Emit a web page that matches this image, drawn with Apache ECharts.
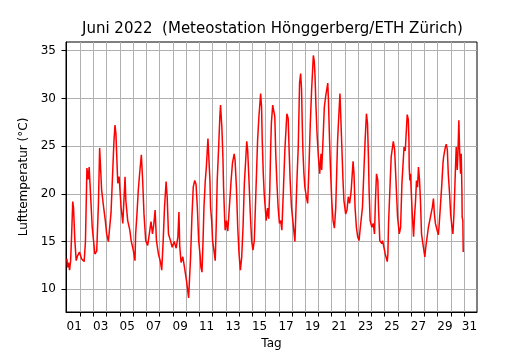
<!DOCTYPE html>
<html>
<head>
<meta charset="utf-8">
<script src="https://cdn.jsdelivr.net/npm/echarts@6.0.0/dist/echarts.min.js"></script>
<style>
  html, body { margin: 0; padding: 0; background: #fff; }
  #chart { width: 530px; height: 350px; }
</style>
</head>
<body>
<div id="chart"></div>
<script>
// time as day of month (1.0 = 1 June 00:00)
const dayTime = [
  1.00, 1.05, 1.12, 1.20, 1.28, 1.35, 1.44, 1.50, 1.60, 1.70, 1.80, 1.95,
  2.10, 2.30, 2.40, 2.51, 2.60, 2.68, 2.80, 2.91,
  3.01, 3.11, 3.25, 3.38, 3.47, 3.55, 3.62, 3.77, 3.90,
  4.00, 4.13, 4.33, 4.43, 4.55, 4.63, 4.70, 4.84, 4.94,
  5.09, 5.22, 5.39, 5.45, 5.59, 5.75, 5.85,
  6.01, 6.14, 6.19, 6.29, 6.39, 6.49, 6.62, 6.72, 6.82, 6.95,
  7.10, 7.20, 7.35, 7.46, 7.56, 7.66, 7.76, 7.91,
  8.06, 8.16, 8.27, 8.37, 8.49, 8.57, 8.67, 8.82, 8.95,
  9.10, 9.25, 9.38, 9.46, 9.52, 9.62, 9.75, 9.88,
  10.04, 10.19, 10.34, 10.44, 10.54, 10.65, 10.75, 10.85, 10.95,
  11.05, 11.12, 11.20, 11.28, 11.35, 11.45, 11.53, 11.65, 11.73, 11.80, 11.85, 11.93,
  12.00, 12.10, 12.20, 12.28, 12.35, 12.45, 12.55, 12.60, 12.70, 12.78, 12.83, 12.90, 12.95,
  13.05, 13.15, 13.30, 13.40, 13.50, 13.63, 13.70, 13.80, 13.90,
  14.00, 14.10, 14.20, 14.30, 14.40, 14.50, 14.58, 14.65, 14.75, 14.85, 14.95,
  15.05, 15.15, 15.30, 15.40, 15.50, 15.63, 15.70, 15.75, 15.83, 15.90,
  16.05, 16.15, 16.24, 16.32, 16.39, 16.44, 16.54, 16.65, 16.70, 16.77, 16.85, 16.95,
  17.05, 17.15, 17.23, 17.35, 17.46, 17.61, 17.71, 17.78, 17.86, 17.96,
  18.06, 18.22, 18.32, 18.39, 18.47, 18.57, 18.65, 18.72, 18.77, 18.82, 18.90, 18.97,
  19.08, 19.18, 19.28, 19.38, 19.48, 19.61, 19.68, 19.73, 19.81, 19.89, 19.99,
  20.09, 20.19, 20.24, 20.34, 20.44, 20.54, 20.70, 20.75, 20.82, 20.90,
  21.00, 21.10, 21.20, 21.30, 21.37, 21.44, 21.49, 21.62, 21.70, 21.77, 21.85, 21.92,
  22.05, 22.15, 22.25, 22.35, 22.46, 22.61, 22.68, 22.76, 22.86, 22.96,
  23.06, 23.16, 23.32, 23.42, 23.52, 23.62, 23.70, 23.77, 23.82, 23.90,
  24.03, 24.13, 24.23, 24.30, 24.38, 24.48, 24.53, 24.63, 24.78, 24.84, 24.94,
  25.04, 25.19, 25.24, 25.29, 25.39, 25.49, 25.65, 25.75, 25.85, 25.97,
  26.10, 26.20, 26.30, 26.46, 26.55, 26.70, 26.78, 26.83, 26.85, 26.90, 26.95,
  27.00, 27.08, 27.18, 27.25, 27.33, 27.40, 27.48, 27.55, 27.63, 27.70, 27.78, 27.88, 27.95,
  28.03, 28.10, 28.20, 28.30, 28.40, 28.50, 28.60, 28.68, 28.75, 28.83, 28.90,
  29.05, 29.10, 29.20, 29.30, 29.40, 29.45, 29.58, 29.65, 29.73, 29.80, 29.90, 29.98,
  30.08, 30.15, 30.23, 30.33, 30.40, 30.48, 30.53, 30.60, 30.65, 30.73, 30.78, 30.83, 30.85, 30.90, 30.93
];

// air temperature in °C, same order as dayTime
const tempC = [
  13.2, 12.3, 12.8, 12.0, 13.0, 15.5, 19.2, 18.5, 15.1, 13.0, 13.5, 13.9,
  13.2, 12.9, 15.0, 22.7, 21.5, 22.8, 19.5, 16.5,
  15.1, 13.7, 14.0, 19.0, 24.8, 22.5, 20.4, 18.6, 17.2,
  15.8, 15.0, 18.0, 21.4, 25.5, 27.2, 26.3, 21.1, 21.8,
  18.6, 16.9, 21.8, 19.3, 17.2, 16.2, 15.1,
  14.1, 13.0, 15.8, 17.9, 20.4, 22.1, 24.1, 21.4, 17.9, 15.1,
  14.6, 14.8, 17.1, 15.8, 16.8, 18.3, 15.1, 13.7,
  12.9, 12.0, 15.1, 18.6, 21.3, 19.7, 15.8, 15.1, 14.4,
  15.0, 14.3, 15.5, 18.1, 14.5, 12.8, 13.4, 12.3,
  10.8, 9.1, 13.4, 17.6, 20.7, 21.4, 21.0, 18.6, 15.1,
  13.7, 12.3, 11.8, 15.1, 18.6, 21.4, 22.8, 25.8, 25.6, 21.4, 18.6, 17.2,
  15.1, 14.1, 13.0, 16.9, 21.4, 24.6, 28.1, 29.3, 27.0, 23.9, 20.7, 17.9, 16.2,
  17.2, 16.1, 19.3, 21.4, 23.2, 24.2, 23.5, 20.7, 16.5,
  13.7, 12.0, 13.4, 16.5, 21.1, 23.5, 25.5, 24.6, 21.4, 17.9, 15.1,
  14.1, 15.1, 21.4, 25.6, 28.1, 30.5, 29.1, 25.6, 22.1, 20.0,
  17.2, 18.5, 17.4, 20.4, 24.9, 27.4, 29.3, 29.1, 28.1, 24.2, 21.4, 18.6,
  16.9, 17.2, 16.2, 20.4, 24.6, 28.4, 27.9, 24.6, 21.4, 18.6,
  17.2, 15.0, 19.3, 22.1, 24.9, 31.6, 32.6, 30.9, 27.4, 24.6, 22.1, 20.7,
  19.7, 19.0, 22.8, 27.4, 30.9, 34.5, 33.9, 32.6, 29.1, 26.3, 23.9,
  22.1, 24.2, 22.5, 25.6, 29.1, 30.2, 31.6, 29.8, 26.3, 22.8,
  19.3, 17.2, 16.4, 18.5, 22.0, 25.5, 27.0, 30.5, 27.4, 24.6, 21.4, 19.3,
  17.9, 18.3, 19.7, 19.0, 20.2, 23.4, 22.1, 18.6, 16.5, 15.5,
  15.1, 16.5, 18.6, 22.1, 25.6, 28.4, 27.4, 23.9, 20.4, 17.2,
  16.5, 16.9, 15.8, 19.3, 22.1, 21.4, 18.6, 15.1, 14.8, 15.1, 14.4,
  13.7, 12.9, 13.7, 16.9, 20.4, 23.9, 25.5, 24.6, 21.4, 17.6,
  15.8, 16.5, 21.1, 24.9, 24.5, 28.3, 27.8, 25.6, 22.8, 21.4, 22.1,
  20.4, 17.9, 15.5, 17.6, 19.3, 21.4, 20.7, 22.8, 21.4, 19.3, 15.8, 14.8, 14.8,
  13.4, 14.4, 14.6, 16.5, 17.2, 17.9, 18.6, 19.5, 17.9, 16.9, 16.5,
  15.7, 16.5, 18.6, 20.7, 23.2, 23.9, 24.9, 25.2, 24.6, 22.1, 20.0, 17.9,
  16.5, 15.8, 17.9, 22.1, 24.9, 22.5, 24.2, 27.7, 24.9, 22.1, 24.2, 20.4, 17.6, 17.2, 13.9
];

// vertical grid lines / ticks at the day boundaries
const gridDays = [2, 3, 4, 5, 6, 7, 8, 9, 10, 11, 12, 13, 14, 15, 16,
  17, 18, 19, 20, 21, 22, 23, 24, 25, 26, 27, 28, 29, 30, 31];
const labelDays = [1.55, 3.55, 5.55, 7.55, 9.55, 11.55, 13.55, 15.55,
  17.55, 19.55, 21.55, 23.55, 25.55, 27.55, 29.55, 31.4];
const labelText = ['01', '03', '05', '07', '09', '11', '13', '15',
  '17', '19', '21', '23', '25', '27', '29', '31'];
const tempTicks = [10, 15, 20, 25, 30, 35];

const font = 'DejaVu Sans';
const chart = echarts.init(document.getElementById('chart'), null, { renderer: 'canvas' });

const option = {
  animation: false,
  backgroundColor: '#fff',
  title: {
    text: 'Juni 2022  (Meteostation Hönggerberg/ETH Zürich)',
    left: 82,
    top: 22,
    padding: 0,
    textStyle: { fontFamily: font, fontSize: 15, fontWeight: 'normal', color: '#000' }
  },
  grid: {
    left: 66, right: 53, top: 42, bottom: 38,
    containLabel: false,
    outerBoundsMode: 'none',
    show: true, borderColor: '#000', borderWidth: 1, backgroundColor: 'transparent'
  },
  xAxis: {
    type: 'value',
    min: 0.93,
    max: 31.97,
    name: 'Tag',
    nameLocation: 'middle',
    nameGap: 26,
    nameTextStyle: { fontFamily: font, fontSize: 12, color: '#000' },
    axisLine: { show: true, onZero: false, lineStyle: { color: '#000', width: 1 } },
    axisTick: { show: true, inside: false, length: 4.5, customValues: gridDays, lineStyle: { color: '#000' } },
    axisLabel: {
      show: true, margin: 9, customValues: labelDays,
      fontFamily: font, fontSize: 12, color: '#000',
      formatter: (v) => {
        let best = 0;
        labelDays.forEach((d, i) => { if (Math.abs(d - v) < Math.abs(labelDays[best] - v)) best = i; });
        return labelText[best];
      }
    },
    splitLine: { show: true, lineStyle: { color: '#b0b0b0', width: 1 } }
  },
  yAxis: {
    type: 'value',
    min: 7.62,
    max: 35.91,
    name: 'Lufttemperatur (°C)',
    nameLocation: 'middle',
    nameGap: 31,
    nameTextStyle: { fontFamily: font, fontSize: 12, color: '#000' },
    axisLine: { show: true, onZero: false, lineStyle: { color: '#000', width: 1 } },
    axisTick: { show: true, inside: false, length: 4.5, customValues: tempTicks, lineStyle: { color: '#000' } },
    axisLabel: {
      show: true, margin: 10, customValues: tempTicks,
      fontFamily: font, fontSize: 12, color: '#000'
    },
    splitLine: { show: true, lineStyle: { color: '#b0b0b0', width: 1 } }
  },
  series: [{
    type: 'line',
    data: dayTime.map((d, i) => [d, tempC[i]]),
    showSymbol: false,
    clip: true,
    lineStyle: { color: '#ff0000', width: 1.5 },
    itemStyle: { color: '#ff0000' }
  }]
};

chart.setOption(option);
</script>
</body>
</html>
